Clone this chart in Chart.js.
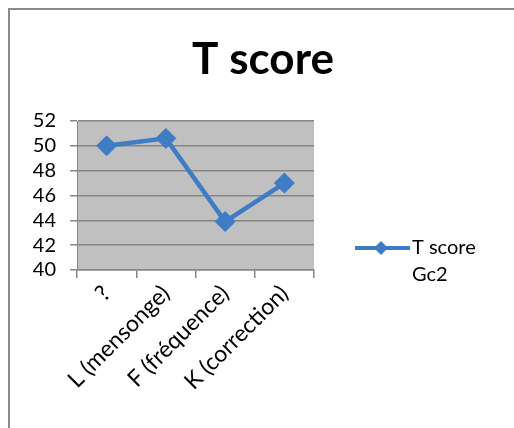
<!DOCTYPE html>
<html>
<head>
<meta charset="utf-8">
<script src="https://cdn.jsdelivr.net/npm/chart.js@4/dist/chart.umd.min.js"></script>
<style>
  body { margin: 0; background: #fff; }
  #wrap { position: relative; width: 514px; height: 428px; overflow: hidden; }
  #frame { position: absolute; left: 8px; top: 8px; width: 600px; height: 500px; border: 2px solid #8a8a8a; }
  #tscoreChart { position: absolute; left: 0; top: 0; }
</style>
</head>
<body>
<div id="wrap">
  <div id="frame"></div>
  <canvas id="tscoreChart" width="514" height="428"></canvas>
</div>
<script>
const chartTitle = 'T score';
const categories = ['?', 'L (mensonge)', 'F (fréquence)', 'K (correction)'];
const tScores = [50, 50.6, 43.9, 47];
const seriesName = ['T score', 'Gc2'];
const yTicks = { min: 40, max: 52, step: 2 };

const lineBlue = '#3e7cc6';
const gridGray = '#868686';
const fontFamily = 'Lato, "Open Sans", sans-serif';

// gray plot background
const plotBackground = {
  id: 'plotBackground',
  beforeDraw: (chart) => {
    const { ctx, chartArea } = chart;
    ctx.save();
    ctx.fillStyle = '#c0c0c0';
    ctx.fillRect(chartArea.left, chartArea.top, chartArea.right - chartArea.left, chartArea.bottom - chartArea.top);
    ctx.restore();
  }
};

// title centred over the whole frame, legend at the right side
const titleAndLegend = {
  id: 'titleAndLegend',
  afterDraw: (chart) => {
    const ctx = chart.ctx;
    ctx.save();
    ctx.fillStyle = '#000';
    ctx.font = 'bold 44px ' + fontFamily;
    ctx.textAlign = 'center';
    ctx.textBaseline = 'alphabetic';
    ctx.fillText(chartTitle, 263, 74);

    const y = 248;
    ctx.strokeStyle = lineBlue;
    ctx.lineWidth = 4;
    ctx.beginPath();
    ctx.moveTo(355, y);
    ctx.lineTo(410, y);
    ctx.stroke();
    ctx.fillStyle = lineBlue;
    ctx.beginPath();
    ctx.moveTo(381, y - 7);
    ctx.lineTo(388, y);
    ctx.lineTo(381, y + 7);
    ctx.lineTo(374, y);
    ctx.closePath();
    ctx.fill();
    ctx.fillStyle = '#000';
    ctx.font = '20px ' + fontFamily;
    ctx.textAlign = 'left';
    ctx.textBaseline = 'middle';
    ctx.fillText(seriesName[0], 412, y);
    ctx.fillText(seriesName[1], 412, y + 27);
    ctx.restore();
  }
};

new Chart(document.getElementById('tscoreChart'), {
  type: 'line',
  data: {
    labels: categories,
    datasets: [{
      label: seriesName.join(' '),
      data: tScores,
      borderColor: lineBlue,
      backgroundColor: lineBlue,
      borderWidth: 4.5,
      pointStyle: 'rectRot',
      pointRadius: 10,
      pointBorderWidth: 1,
      tension: 0
    }]
  },
  options: {
    responsive: false,
    animation: false,
    devicePixelRatio: 1,
    layout: { padding: { left: 0, right: 200, top: 121, bottom: 0 } },
    plugins: {
      legend: { display: false },
      tooltip: { enabled: false },
      title: { display: false }
    },
    scales: {
      y: {
        min: yTicks.min,
        max: yTicks.max,
        ticks: { stepSize: yTicks.step, autoSkip: false, color: '#000', font: { family: fontFamily, size: 20 }, padding: 14 },
        grid: { color: gridGray, tickLength: 7, lineWidth: 1.5 },
        border: { color: gridGray },
        afterFit: (scale) => { scale.width = 77; }
      },
      x: {
        offset: true,
        ticks: { minRotation: 45, maxRotation: 45, autoSkip: false, color: '#000', font: { family: fontFamily, size: 23 }, padding: 2 },
        grid: { offset: true, drawOnChartArea: false, color: gridGray, tickLength: 8, lineWidth: 1.5 },
        border: { color: gridGray, width: 1.5 },
        afterFit: (scale) => { scale.height = 158; }
      }
    }
  },
  plugins: [plotBackground, titleAndLegend]
});
</script>
</body>
</html>
